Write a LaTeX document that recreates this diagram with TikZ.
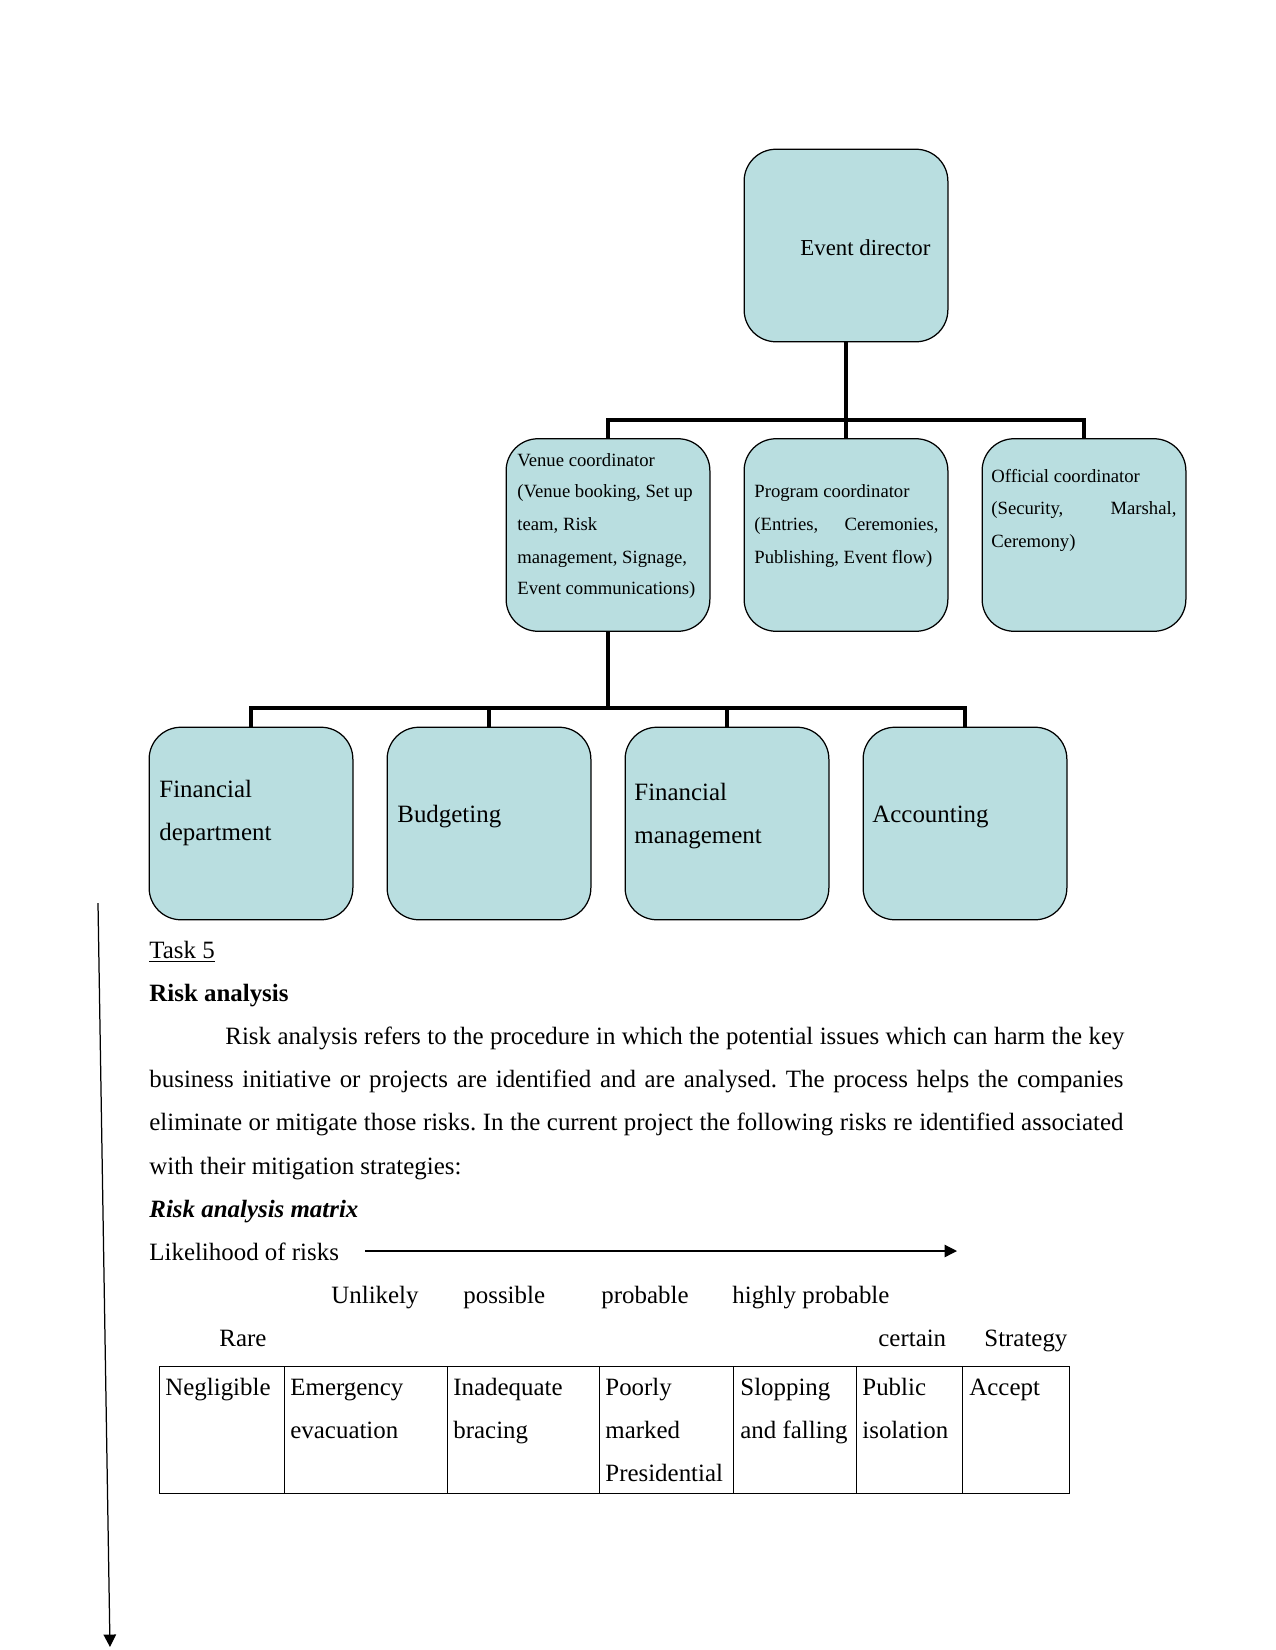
\documentclass[tikz,border=0pt]{standalone}
\usepackage{fontspec}
\setmainfont{Liberation Serif}
\usepackage{tikz}
\usetikzlibrary{arrows.meta}
\definecolor{boxfill}{RGB}{185,222,224}
\frenchspacing

\begin{document}
\begin{tikzpicture}[x=0.16933mm,y=-0.16933mm,
	orgbox/.style={draw,semithick,fill=boxfill,rounded corners=5.4mm,minimum width=34.5mm,minimum height=32.6mm,inner sep=0pt},
	txt/.style={anchor=base west,inner sep=0pt,font=\fontsize{12}{14}\selectfont},
	small/.style={anchor=base west,inner sep=0pt,font=\fontsize{9}{11}\selectfont},
	bar/.style={line width=2pt},
	tip/.style={semithick,-{Triangle[length=6pt,width=6pt]}}]
	\useasboundingbox (0,0) rectangle (1275,1650);
		\node [orgbox] (director) at (846,245.5) {};
		\node [orgbox] (venue) at (608,535) {};
		\node [orgbox] (program) at (846,535) {};
		\node [orgbox] (official) at (1084,535) {};
		\node [orgbox] (findept) at (251,823.5) {};
		\node [orgbox] (budgeting) at (489,823.5) {};
		\node [orgbox] (finmgmt) at (727,823.5) {};
		\node [orgbox] (accounting) at (965,823.5) {};
		\coordinate (bus1) at (846,420);
		\coordinate (bus2) at (608,708);
		\draw [bar] (director.south) -- (bus1);
		\draw [bar] (venue.north) |- (bus1) -| (official.north);
		\draw [bar] (bus1) -- (program.north);
		\draw [bar] (venue.south) -- (bus2);
		\draw [bar] (findept.north) |- (bus2) -| (accounting.north);
		\draw [bar] (budgeting.north) -- (budgeting.north |- bus2);
		\draw [bar] (finmgmt.north) -- (finmgmt.north |- bus2);
		\node [txt,font=\fontsize{11}{13}\selectfont] (dirtext) at (800,255) {Event director};
		\node [small] (ven1) at (517,466) {Venue coordinator};
		\node [small] (ven2) at (517,497) {(Venue booking, Set up};
		\node [small] (ven3) at (517,530) {team, Risk};
		\node [small] (ven4) at (517,563) {management, Signage,};
		\node [small] (ven5) at (517,594) {Event communications)};
		\node [small] (prg1) at (754,497) {Program coordinator};
		\node [small] (prg2) at (754,530) {\makebox[31.16mm][s]{(Entries, Ceremonies,}};
		\node [small] (prg3) at (754,563) {Publishing, Event flow)};
		\node [small] (off1) at (991,482) {Official coordinator};
		\node [small] (off2) at (991,514) {\makebox[31.33mm][s]{(Security, Marshal,}};
		\node [small] (off3) at (991,547) {Ceremony)};
		\node [txt] (fd1) at (159,797) {Financial};
		\node [txt] (fd2) at (159,840) {department};
		\node [txt] (bud) at (397,822) {Budgeting};
		\node [txt] (fm1) at (634,800) {Financial};
		\node [txt] (fm2) at (634,843) {management};
		\node [txt] (acc) at (872,822) {Accounting};
		\node [txt] (task) at (149,958) {\underline{Task 5}};
		\node [txt] (riskhead) at (149,1001) {\textbf{Risk analysis}};
		\node [txt] (par1) at (225,1044) {\makebox[152.23mm][s]{Risk analysis refers to the procedure in which the potential issues which can harm the key}};
		\node [txt] (par2) at (149,1087) {\makebox[164.93mm][s]{business initiative or projects are identified and are analysed. The process helps the companies}};
		\node [txt] (par3) at (149,1130) {\makebox[164.93mm][s]{eliminate or mitigate those risks. In the current project the following risks re identified associated}};
		\node [txt] (par4) at (149,1174) {with their mitigation strategies:};
		\node [txt] (matrixhead) at (149,1217) {\textbf{\textit{Risk analysis matrix}}};
		\node [txt] (likely) at (149,1260) {Likelihood of risks};
		\coordinate (likestart) at (365,1251);
		\coordinate (likeend) at (957,1251);
		\draw [tip] (likestart) -- (likeend);
		\node [txt] (unlikely) at (331,1303) {Unlikely};
		\node [txt] (possible) at (463,1303) {possible};
		\node [txt] (probable) at (601,1303) {probable};
		\node [txt] (highly) at (732,1303) {highly probable};
		\node [txt] (rare) at (219,1346) {Rare};
		\node [txt] (certain) at (878,1346) {certain};
		\node [txt] (strategy) at (984,1346) {Strategy};
		\draw (159,1366) rectangle (1069,1493);
		\draw (284,1366) -- (284,1493);
		\draw (447,1366) -- (447,1493);
		\draw (599,1366) -- (599,1493);
		\draw (733,1366) -- (733,1493);
		\draw (856,1366) -- (856,1493);
		\draw (962,1366) -- (962,1493);
		\node [txt] (c1) at (165,1395) {Negligible};
		\node [txt] (c2a) at (290,1395) {Emergency};
		\node [txt] (c2b) at (290,1438) {evacuation};
		\node [txt] (c3a) at (453,1395) {Inadequate};
		\node [txt] (c3b) at (453,1438) {bracing};
		\node [txt] (c4a) at (605,1395) {Poorly};
		\node [txt] (c4b) at (605,1438) {marked};
		\node [txt] (c4c) at (605,1481) {Presidential};
		\node [txt] (c5a) at (740,1395) {Slopping};
		\node [txt] (c5b) at (740,1438) {and falling};
		\node [txt] (c6a) at (862,1395) {Public};
		\node [txt] (c6b) at (862,1438) {isolation};
		\node [txt] (c7) at (969,1395) {Accept};
		\coordinate (vtop) at (98,903);
		\coordinate (vbot) at (110,1647);
		\draw [tip] (vtop) -- (vbot);
\end{tikzpicture}
\end{document}
